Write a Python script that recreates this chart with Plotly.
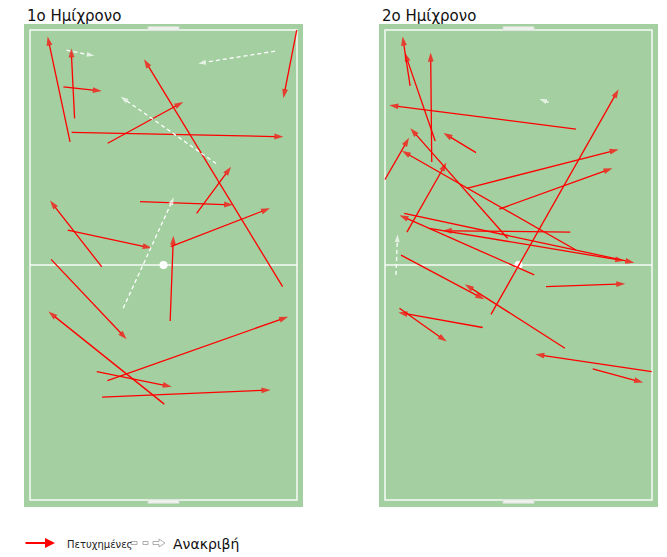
import plotly.graph_objects as go

# ---------------- data (pitch units: x 0-100 across, y 0-100 along) ----------------
half_titles = ["1ο Ημίχρονο", "2ο Ημίχρονο"]
legend_ok = "Πετυχημένες"
legend_miss = "Ανακριβή"

# 1st half - successful passes
h1_ok_x0 = [15.0, 16.7, 12.5, 15.6, 29.1, 99.9, 94.6, 62.4, 41.2, 26.9, 14.1, 52.7, 52.5, 7.9, 50.3, 29.0, 25.0, 27.0]
h1_ok_y0 = [76.2, 81.2, 87.9, 78.2, 75.9, 100.0, 45.4, 61.0, 63.5, 49.6, 57.4, 53.9, 38.1, 51.2, 20.4, 25.4, 27.3, 21.9]
h1_ok_x1 = [6.6, 15.4, 26.9, 94.9, 57.4, 94.9, 42.7, 75.3, 76.1, 7.5, 45.6, 89.9, 53.7, 36.2, 6.9, 96.7, 53.1, 90.1]
h1_ok_y1 = [98.6, 96.1, 87.0, 77.3, 84.7, 85.5, 93.8, 70.9, 62.8, 63.7, 53.6, 62.1, 56.2, 34.2, 40.1, 39.0, 24.1, 23.4]

# 1st half - inaccurate passes
h1_miss_x0 = [13.7, 91.8, 69.7, 34.9]
h1_miss_y0 = [95.7, 95.5, 71.6, 40.8]
h1_miss_x1 = [24.1, 63.0, 34.0, 53.9]
h1_miss_y1 = [94.5, 92.9, 85.8, 64.4]

# 2nd half - successful passes
h2_ok_x0 = [9.4, 18.8, 17.5, 71.5, 34.1, 0.0, 45.9, 8.2, 30.6, 42.8, 39.7, 69.4, 71.5, 7.2, 16.6, 6.0, 55.9, 60.3, 67.4, 36.6, 5.4, 99.9, 77.8]
h2_ok_y0 = [88.1, 76.4, 71.9, 78.9, 73.9, 68.2, 55.7, 57.0, 66.3, 61.9, 39.5, 57.0, 53.2, 61.0, 57.8, 52.1, 47.9, 45.4, 32.3, 36.7, 40.8, 27.3, 27.9]
h2_ok_x1 = [6.6, 7.4, 17.1, 1.6, 21.9, 9.0, 9.5, 23.0, 87.5, 85.2, 87.5, 21.6, 6.3, 93.4, 89.6, 37.2, 5.4, 90.0, 29.9, 5.0, 23.1, 56.3, 96.7]
h2_ok_y1 = [98.6, 95.2, 95.2, 84.0, 78.1, 77.1, 79.1, 71.8, 74.6, 70.6, 87.4, 57.3, 74.3, 50.5, 50.9, 42.7, 60.6, 46.0, 45.9, 39.9, 33.7, 31.0, 25.0]

# 2nd half - inaccurate passes
h2_miss_x0 = [61.3, 4.1]
h2_miss_y0 = [84.6, 47.9]
h2_miss_x1 = [57.8, 4.7]
h2_miss_y1 = [85.3, 56.5]

# ---------------- styling ----------------
OFF = 8                      # page body margin compensation
W, H = 667 - OFF, 557 - OFF
GREEN = "rgb(164,208,161)"
LINE = "rgba(255,255,255,0.9)"
RED = "#ff0000"
FONT = "DejaVu Sans, Verdana, sans-serif"


def px(xp):
    return (xp - OFF) / W


def py(yp):
    return 1 - (yp - OFF) / H


fig = go.Figure()

halves = [
    ("x", "y", h1_ok_x0, h1_ok_y0, h1_ok_x1, h1_ok_y1, h1_miss_x0, h1_miss_y0, h1_miss_x1, h1_miss_y1),
    ("x2", "y2", h2_ok_x0, h2_ok_y0, h2_ok_x1, h2_ok_y1, h2_miss_x0, h2_miss_y0, h2_miss_x1, h2_miss_y1),
]

for xa, ya, ox0, oy0, ox1, oy1, mx0, my0, mx1, my1 in halves:
    for a, b, c, d in zip(ox0, oy0, ox1, oy1):
        fig.add_trace(go.Scatter(
            x=[a, c], y=[b, d], xaxis=xa, yaxis=ya, mode="lines+markers",
            line=dict(color=RED, width=1.3),
            marker=dict(symbol=["circle", "arrow"], size=[0, 9.5], angleref="previous",
                        color=RED, line=dict(width=0)),
            showlegend=False, hoverinfo="skip"))
    for a, b, c, d in zip(mx0, my0, mx1, my1):
        fig.add_trace(go.Scatter(
            x=[a, c], y=[b, d], xaxis=xa, yaxis=ya, mode="lines+markers",
            line=dict(color="white", width=1.3, dash="4px,3px"),
            marker=dict(symbol=["circle", "arrow"], size=[0, 8], angleref="previous",
                        color="white", line=dict(width=0)),
            showlegend=False, hoverinfo="skip"))

# pitch markings
shapes = []
for xr, yr in (("x", "y"), ("x2", "y2")):
    common = dict(xref=xr, yref=yr, layer="below")
    shapes.append(dict(type="rect", x0=0, x1=100, y0=0, y1=100,
                       line=dict(color=LINE, width=1.5), **common))
    shapes.append(dict(type="line", x0=0, x1=100, y0=50, y1=50,
                       line=dict(color=LINE, width=1.5), **common))
    shapes.append(dict(type="rect", x0=44.2, x1=55.8, y0=100, y1=100.7,
                       line=dict(color="rgba(220,220,220,0.9)", width=1),
                       fillcolor="rgba(255,255,255,0.8)", **common))
    shapes.append(dict(type="rect", x0=44.2, x1=55.8, y0=-0.7, y1=0,
                       line=dict(color="rgba(220,220,220,0.9)", width=1),
                       fillcolor="rgba(255,255,255,0.8)", **common))
    shapes.append(dict(type="circle", x0=50 - 1.5, x1=50 + 1.5, y0=50 - 0.85, y1=50 + 0.85,
                       line=dict(color="white", width=0), fillcolor="white", **common))

# legend icon for inaccurate passes (small outlined dashed arrow)
for x0, x1 in ((131, 137), (143, 148)):
    shapes.append(dict(type="rect", xref="paper", yref="paper",
                       x0=px(x0), x1=px(x1), y0=py(544.5), y1=py(541.5),
                       line=dict(color="#999", width=0.8), fillcolor="white"))
arrow_path = "M {a},{b} L {c},{b} L {c},{d} L {e},{f} L {c},{g} L {c},{h} L {a},{h} Z".format(
    a=px(153), c=px(159), e=px(165), b=py(541.5), h=py(544.5), d=py(539), g=py(547), f=py(543))
shapes.append(dict(type="path", xref="paper", yref="paper", path=arrow_path,
                   line=dict(color="#999", width=0.8), fillcolor="white"))

annotations = [
    dict(text=half_titles[0], x=px(25), y=py(16.3), xref="paper", yref="paper",
         xanchor="left", yanchor="middle", showarrow=False,
         font=dict(family=FONT, size=15, color="#111")),
    dict(text=half_titles[1], x=px(380), y=py(16.3), xref="paper", yref="paper",
         xanchor="left", yanchor="middle", showarrow=False,
         font=dict(family=FONT, size=15, color="#111")),
    dict(text="", x=px(55), y=py(543), xref="paper", yref="paper",
         ax=-31, ay=0, showarrow=True, arrowhead=2, arrowsize=1, arrowwidth=2,
         arrowcolor=RED),
    dict(text=legend_ok, x=px(65), y=py(544.5), xref="paper", yref="paper",
         xanchor="left", yanchor="middle", showarrow=False,
         font=dict(family=FONT, size=10, color="#222")),
    dict(text=legend_miss, x=px(171), y=py(543.7), xref="paper", yref="paper",
         xanchor="left", yanchor="middle", showarrow=False,
         font=dict(family=FONT, size=14, color="#111")),
]

ax_common = dict(visible=False, showgrid=False, zeroline=False, fixedrange=True)
fig.update_layout(
    width=W, height=H,
    margin=dict(l=0, r=0, t=0, b=0),
    paper_bgcolor="white",
    plot_bgcolor=GREEN,
    showlegend=False,
    xaxis=dict(domain=[px(24), px(303)], range=[-2.25, 102.25], **ax_common),
    yaxis=dict(domain=[py(507), py(24)], range=[-1.49, 101.28], **ax_common),
    xaxis2=dict(domain=[px(379), px(658)], range=[-2.25, 102.25], **ax_common),
    yaxis2=dict(domain=[py(507), py(24)], range=[-1.49, 101.28], **ax_common),
    shapes=shapes,
    annotations=annotations,
)

fig.write_html("out.html")
